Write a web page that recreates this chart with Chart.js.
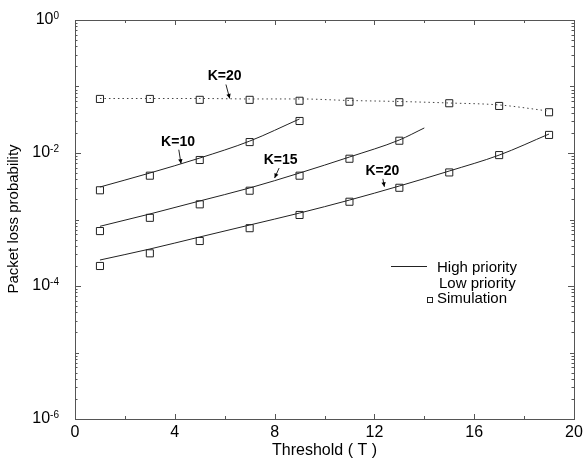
<!DOCTYPE html>
<html>
<head>
<meta charset="utf-8">
<script src="https://cdn.jsdelivr.net/npm/chart.js@4.4.0/dist/chart.umd.min.js"></script>
<style>
  html, body { margin: 0; padding: 0; background: #fff; }
  #wrap { width: 584px; height: 464px; }
</style>
</head>
<body>
<div id="wrap"><canvas id="lossChart" width="584" height="464"></canvas></div>
<script>
// Threshold values where the simulation was run
const simT = [1, 3, 5, 7, 9, 11, 13, 15, 17, 19];

// Simulation results (squares)
const simLowK20  = [0.065, 0.065, 0.063, 0.063, 0.061, 0.059, 0.058, 0.056, 0.051, 0.041];
const simHighK10 = [0.00275, 0.00456, 0.00785, 0.0146, 0.0303];
const simHighK15 = [0.00067, 0.00106, 0.00169, 0.00271, 0.00456, 0.0082, 0.0153];
const simHighK20 = [0.0002, 0.00031, 0.000475, 0.00074, 0.00117, 0.00185, 0.003, 0.0051, 0.0093, 0.0187];

// Analytical curves
const lowK20T    = [1, 3, 5, 7, 9, 11, 13, 15, 17, 19];
const lowK20     = [0.066, 0.066, 0.066, 0.065, 0.065, 0.0616, 0.0595, 0.0565, 0.0528, 0.0427];
const highK10T   = [1, 3, 5, 7, 9];
const highK10    = [0.00308, 0.005, 0.0084, 0.0151, 0.0325];
const highK15T   = [1, 3, 5, 7, 9, 11, 13, 14];
const highK15    = [0.00079, 0.00121, 0.0019, 0.00298, 0.005, 0.0087, 0.0157, 0.0238];
const highK20T   = [1, 3, 5, 7, 9, 11, 13, 15, 17, 19];
const highK20    = [0.000246, 0.00036, 0.000546, 0.000826, 0.00125, 0.00196, 0.00319, 0.00536, 0.0093, 0.0193];

// Axis ticks
const xTicks = [0, 4, 8, 12, 16, 20];
const xMinorTicks = [2, 6, 10, 14, 18];
const yTickExp = [0, -2, -4, -6];

// Curve labels: arrow tip in data units
const curveLabels = [
  { text: 'K=20', t: 6.2, p: 0.066, dx: -5, dy: -22 },
  { text: 'K=10', t: 4.25, p: 0.0069, dx: -3, dy: -22 },
  { text: 'K=15', t: 8.0, p: 0.0042, dx: 6, dy: -18 },
  { text: 'K=20', t: 12.4, p: 0.0031, dx: -2, dy: -16 }
];

function pts(xs, ys) {
  return ys.map(function(v, i) { return { x: xs[i], y: v }; });
}

const FONT = '"Liberation Sans", Arial, Helvetica, sans-serif';
const INK = '#000';

function lineSet(data, dashed) {
  return {
    data: data,
    showLine: true,
    borderColor: dashed ? '#444' : '#222',
    borderWidth: 1,
    borderDash: dashed ? [1.5, 3] : [],
    pointRadius: 0,
    tension: 0.4,
    cubicInterpolationMode: 'monotone',
    fill: false
  };
}

function simSet(data) {
  return {
    data: data,
    showLine: false,
    pointStyle: 'rect',
    pointRadius: 5,
    pointBorderWidth: 1,
    pointBorderColor: '#222',
    pointBackgroundColor: '#fff'
  };
}

const decorations = {
  id: 'decorations',
  afterDraw(chart) {
    const ctx = chart.ctx;
    const a = chart.chartArea;
    const x = chart.scales.x;
    const y = chart.scales.y;
    ctx.save();

    // frame
    ctx.strokeStyle = '#555';
    ctx.lineWidth = 1;
    ctx.strokeRect(Math.round(a.left) + 0.5, Math.round(a.top) + 0.5,
      Math.round(a.right - a.left), Math.round(a.bottom - a.top));

    // inward ticks
    ctx.beginPath();
    xTicks.forEach(function(t) {
      const px = Math.round(x.getPixelForValue(t)) + 0.5;
      ctx.moveTo(px, a.bottom); ctx.lineTo(px, a.bottom - 5);
      ctx.moveTo(px, a.top); ctx.lineTo(px, a.top + 5);
    });
    xMinorTicks.forEach(function(t) {
      const px = Math.round(x.getPixelForValue(t)) + 0.5;
      ctx.moveTo(px, a.bottom); ctx.lineTo(px, a.bottom - 3);
      ctx.moveTo(px, a.top); ctx.lineTo(px, a.top + 3);
    });
    for (let e = -6; e <= 0; e++) {
      const py = Math.round(y.getPixelForValue(Math.pow(10, e))) + 0.5;
      const len = (e % 2 === 0) ? 6 : 4;
      ctx.moveTo(a.left, py); ctx.lineTo(a.left + len, py);
      ctx.moveTo(a.right, py); ctx.lineTo(a.right - len, py);
      if (e < 0) {
        for (let k = 2; k <= 9; k++) {
          const pm = Math.round(y.getPixelForValue(k * Math.pow(10, e))) + 0.5;
          ctx.moveTo(a.left, pm); ctx.lineTo(a.left + 2.5, pm);
          ctx.moveTo(a.right, pm); ctx.lineTo(a.right - 2.5, pm);
        }
      }
    }
    ctx.stroke();

    ctx.fillStyle = INK;

    // x tick labels
    ctx.font = '16px ' + FONT;
    ctx.textAlign = 'center';
    ctx.textBaseline = 'middle';
    xTicks.forEach(function(t) {
      ctx.fillText(String(t), x.getPixelForValue(t), a.bottom + 14);
    });

    // y tick labels with superscript exponent
    yTickExp.forEach(function(e) {
      const py = y.getPixelForValue(Math.pow(10, e));
      const exp = e === 0 ? '0' : '-' + String(-e);
      ctx.font = '10px ' + FONT;
      const ew = ctx.measureText(exp).width;
      const right = 59;
      ctx.textAlign = 'left';
      ctx.textBaseline = 'alphabetic';
      ctx.fillText(exp, right - ew, py - 1);
      ctx.font = '16px ' + FONT;
      ctx.textAlign = 'right';
      ctx.textBaseline = 'middle';
      ctx.fillText('10', right - ew, py);
    });

    // axis titles
    ctx.font = '16px ' + FONT;
    ctx.textAlign = 'center';
    ctx.textBaseline = 'middle';
    ctx.fillText('Threshold ( T )', (a.left + a.right) / 2, 451);
    ctx.save();
    ctx.translate(14, 219);
    ctx.rotate(-Math.PI / 2);
    ctx.font = '15px ' + FONT;
    ctx.fillText('Packet loss probability', 0, 0);
    ctx.restore();

    // curve labels with arrows
    ctx.font = 'bold 14px ' + FONT;
    ctx.strokeStyle = '#222';
    curveLabels.forEach(function(l) {
      const tx = x.getPixelForValue(l.t);
      const ty = y.getPixelForValue(l.p);
      const cx = tx + l.dx;
      const cy = ty + l.dy;
      ctx.textAlign = 'center';
      ctx.textBaseline = 'middle';
      ctx.fillText(l.text, cx, cy);
      const sx = cx - l.dx * 0.25;
      const sy = cy + 8;
      ctx.beginPath();
      ctx.moveTo(sx, sy);
      ctx.lineTo(tx, ty);
      ctx.stroke();
      const ang = Math.atan2(ty - sy, tx - sx);
      ctx.beginPath();
      ctx.moveTo(tx, ty);
      ctx.lineTo(tx - 5 * Math.cos(ang - 0.45), ty - 5 * Math.sin(ang - 0.45));
      ctx.lineTo(tx - 5 * Math.cos(ang + 0.45), ty - 5 * Math.sin(ang + 0.45));
      ctx.closePath();
      ctx.fill();
    });

    // legend
    ctx.font = '15px ' + FONT;
    ctx.textAlign = 'left';
    ctx.textBaseline = 'middle';
    ctx.beginPath();
    ctx.moveTo(391, 266.5); ctx.lineTo(427, 266.5);
    ctx.stroke();
    ctx.fillText('High priority', 437, 268);
    ctx.fillText('Low priority', 439, 284);
    ctx.strokeRect(427.5, 297.5, 5, 5);
    ctx.fillText('Simulation', 437, 299);

    ctx.restore();
  }
};

const ctx = document.getElementById('lossChart').getContext('2d');
const lossChart = new Chart(ctx, {
  type: 'scatter',
  data: {
    datasets: [
      lineSet(pts(lowK20T, lowK20), true),
      lineSet(pts(highK10T, highK10), false),
      lineSet(pts(highK15T, highK15), false),
      lineSet(pts(highK20T, highK20), false),
      simSet(pts(simT, simLowK20)),
      simSet(pts(simT.slice(0, simHighK10.length), simHighK10)),
      simSet(pts(simT.slice(0, simHighK15.length), simHighK15)),
      simSet(pts(simT, simHighK20))
    ]
  },
  options: {
    responsive: false,
    animation: false,
    layout: { padding: { left: 75, right: 10, top: 20, bottom: 45 } },
    plugins: { legend: { display: false }, tooltip: { enabled: false } },
    scales: {
      x: { type: 'linear', min: 0, max: 20, display: false },
      y: { type: 'logarithmic', min: 1e-6, max: 1, display: false }
    }
  },
  plugins: [decorations]
});
</script>
</body>
</html>
